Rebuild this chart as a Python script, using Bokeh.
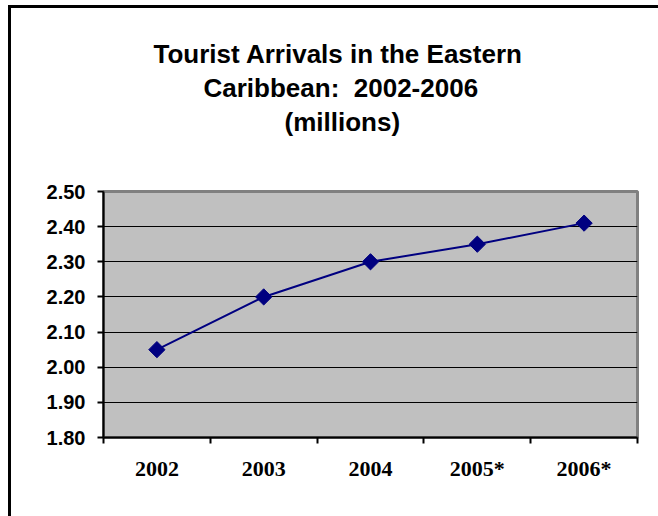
from bokeh.plotting import figure
from bokeh.models import Range1d, FixedTicker, PrintfTickFormatter, Title
from bokeh.embed import file_html
from bokeh.resources import INLINE
import math

years = ["2002", "2003", "2004", "2005*", "2006*"]
arrivals = [2.05, 2.20, 2.30, 2.35, 2.41]
y_ticks = [1.80, 1.90, 2.00, 2.10, 2.20, 2.30, 2.40, 2.50]
title_lines = ["Tourist Arrivals in the Eastern", "Caribbean:\u00a0 2002-2006", "(millions)"]

xs = [i + 0.5 for i in range(len(years))]
bounds = list(range(len(years) + 1))

p = figure(width=647, height=508, frame_width=534, frame_height=246,
           x_range=Range1d(0, len(years)), y_range=Range1d(y_ticks[0], y_ticks[-1]),
           output_backend="svg", toolbar_location=None, title=None,
           min_border_left=92, min_border_right=21, min_border_top=183, min_border_bottom=79,
           background_fill_color="#C0C0C0", border_fill_color="white")
p.styles = {"border-left": "3px solid black", "border-top": "3px solid black",
            "margin-left": "8px", "margin-top": "5px"}

# spacer between the title block and the plot area
p.add_layout(Title(text=" ", text_font_size="1px", standoff=51), "above")
title_offsets = [50, 100, 181]
for line, off in reversed(list(zip(title_lines, title_offsets))):
    p.add_layout(Title(text=line, align="left", offset=off,
                       text_font="Liberation Sans", text_font_style="bold",
                       text_font_size="26px", text_color="black", standoff=2), "above")

p.outline_line_color = "#808080"
p.outline_line_width = 3

# axes
p.xaxis.ticker = FixedTicker(ticks=xs, minor_ticks=bounds)
p.xaxis.major_label_overrides = {x: y for x, y in zip(xs, years)}
p.xaxis.major_tick_out = 0
p.xaxis.major_tick_in = 0
p.xaxis.minor_tick_out = 6
p.xaxis.minor_tick_in = 0
p.xaxis.minor_tick_line_color = "black"
p.xaxis.minor_tick_line_width = 2
p.xaxis.axis_line_color = "black"
p.xaxis.axis_line_width = 2
p.xaxis.major_label_text_font = "Liberation Serif"
p.xaxis.major_label_text_font_style = "bold"
p.xaxis.major_label_text_font_size = "22px"
p.xaxis.major_label_text_color = "black"
p.xaxis.major_label_standoff = 12

p.yaxis.ticker = FixedTicker(ticks=y_ticks, minor_ticks=[])
p.yaxis.formatter = PrintfTickFormatter(format="%.2f")
p.yaxis.major_tick_out = 6
p.yaxis.major_tick_in = 0
p.yaxis.major_tick_line_color = "black"
p.yaxis.major_tick_line_width = 2
p.yaxis.axis_line_color = "black"
p.yaxis.axis_line_width = 2
p.yaxis.major_label_text_font = "Liberation Sans"
p.yaxis.major_label_text_font_style = "bold"
p.yaxis.major_label_text_font_size = "20px"
p.yaxis.major_label_text_color = "black"
p.yaxis.major_label_standoff = 12

p.xgrid.visible = False
p.ygrid.ticker = FixedTicker(ticks=y_ticks[1:-1])
p.ygrid.grid_line_color = "black"
p.ygrid.grid_line_width = 1

p.line(xs, arrivals, line_color="#000080", line_width=2)
p.scatter(xs, arrivals, marker="square", angle=math.pi / 4, size=11.5,
          fill_color="#000080", line_color="#000080")

open("out.html", "w").write(file_html(p, INLINE))
